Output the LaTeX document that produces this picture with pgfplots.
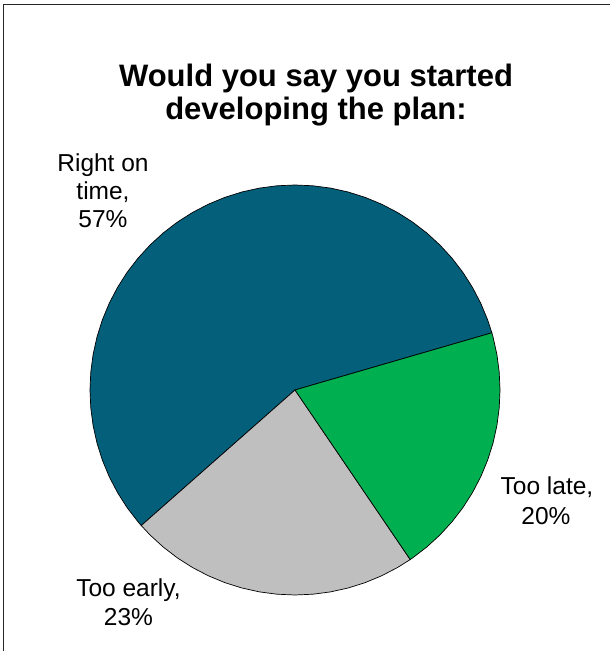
\documentclass[border=0pt]{standalone}
\usepackage{pgfplots}
\pgfplotsset{compat=1.18}
\usepgfplotslibrary{polar}
\usepackage{fontspec}
\setmainfont{Liberation Sans}

\definecolor{ontime}{HTML}{035F7A}
\definecolor{late}{HTML}{00AF50}
\definecolor{early}{HTML}{BFBFBF}

\begin{document}
\begin{tikzpicture}[x=1bp,y=1bp]
\useasboundingbox (0,0) rectangle (610,651);
% frame (only left and top edges show)
\draw[line width=1.4bp, black!85] (3.5,0) -- (3.5,646.5) -- (610,646.5);

% title
\node[anchor=base, font=\fontsize{31bp}{34bp}\selectfont\bfseries] at (316,564.3) {Would you say you started};
\node[anchor=base, font=\fontsize{31bp}{34bp}\selectfont\bfseries] at (316,531) {developing the plan:};

\begin{polaraxis}[
    at={(295bp,261bp)}, anchor=center,
    scale only axis, width=410bp, height=410bp,
    ymin=0, ymax=1,
    hide axis, clip=false,
]
% Right on time, 57% (205.2 deg)
\addplot[draw=black, line width=0.7bp, fill=ontime] coordinates {
 (0,0) (16.2,1) (20,1) (25,1) (30,1) (35,1) (40,1) (45,1) (50,1) (55,1)
 (60,1) (65,1) (70,1) (75,1) (80,1) (85,1) (90,1) (95,1) (100,1) (105,1)
 (110,1) (115,1) (120,1) (125,1) (130,1) (135,1) (140,1) (145,1) (150,1)
 (155,1) (160,1) (165,1) (170,1) (175,1) (180,1) (185,1) (190,1) (195,1)
 (200,1) (205,1) (210,1) (215,1) (220,1) (221.4,1) (0,0)
} -- cycle;
% Too early, 23% (82.8 deg)
\addplot[draw=black, line width=0.7bp, fill=early] coordinates {
 (0,0) (221.4,1) (225,1) (230,1) (235,1) (240,1) (245,1) (250,1) (255,1)
 (260,1) (265,1) (270,1) (275,1) (280,1) (285,1) (290,1) (295,1) (300,1)
 (304.2,1) (0,0)
} -- cycle;
% Too late, 20% (72 deg)
\addplot[draw=black, line width=0.7bp, fill=late] coordinates {
 (0,0) (-55.8,1) (-55,1) (-50,1) (-45,1) (-40,1) (-35,1) (-30,1) (-25,1)
 (-20,1) (-15,1) (-10,1) (-5,1) (0,1) (5,1) (10,1) (15,1) (16.2,1) (0,0)
} -- cycle;
\end{polaraxis}

% slice labels
\begin{scope}[every node/.style={anchor=base, font=\fontsize{24.5bp}{29bp}\selectfont}]
\node at (103,479) {Right on};
\node at (103,451) {time,};
\node at (103,423) {57\%};
\node at (547,156) {Too late,};
\node at (546,126) {20\%};
\node at (128.5,54) {Too early,};
\node at (128.5,25) {23\%};
\end{scope}
\end{tikzpicture}
\end{document}
